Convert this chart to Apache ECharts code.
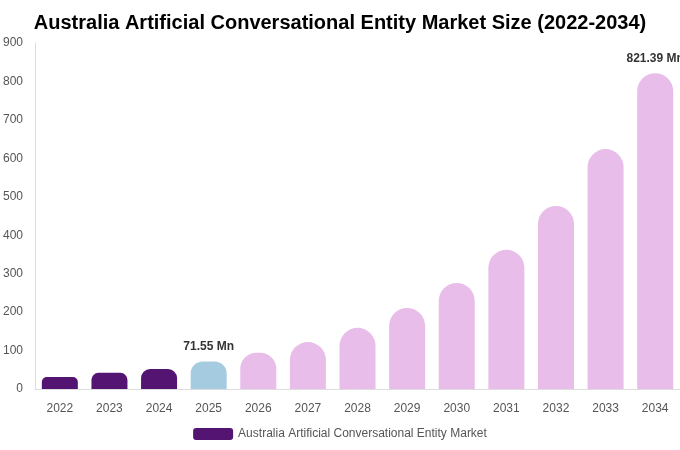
<!DOCTYPE html>
<html>
<head>
<meta charset="utf-8">
<script src="https://cdn.jsdelivr.net/npm/echarts@6/dist/echarts.min.js"></script>
<style>
html, body { margin: 0; padding: 0; background: #fff; }
#main { width: 680px; height: 450px; }
</style>
</head>
<body>
<div id="main"></div>
<script>
var years = ['2022','2023','2024','2025','2026','2027','2028','2029','2030','2031','2032','2033','2034'];
var values = [31, 42, 52, 71.55, 94, 122, 159, 211, 276, 362, 476, 624, 821.39];
var yTicks = [0, 100, 200, 300, 400, 500, 600, 700, 800, 900];
var labelled = { '2025': '71.55 Mn', '2034': '821.39 Mn' };

function barColor(i) {
	if (i < 3) return '#541472';
	if (i == 3) return '#a5cbe0';
	return '#e8bde9';
}

// corner radius shrinks on the short bars (346px of plot for 900 units)
function barRadius(v) {
	var h = v * 346 / 900;
	return Math.min(18, Math.round(h * 0.45));
}

var myChart = echarts.init(document.getElementById('main'));
var option = {
	title: {
		text: 'Australia Artificial Conversational Entity Market Size (2022-2034)',
		left: 'center',
		top: 8,
		textStyle: { fontFamily: 'Liberation Sans', fontSize: 20, fontWeight: 'bold', color: '#000' }
	},
	legend: {
		bottom: 5,
		left: 'center',
		itemWidth: 40,
		itemHeight: 12,
		textStyle: { fontFamily: 'Liberation Sans', fontSize: 12, color: '#555' },
		data: [{ name: 'Australia Artificial Conversational Entity Market', itemStyle: { color: '#541472' } }]
	},
	grid: { left: 35, right: 0, top: 43, bottom: 61 },
	xAxis: {
		type: 'category',
		data: years,
		axisLine: { lineStyle: { color: '#ddd' } },
		axisTick: { show: false },
		axisLabel: { fontFamily: 'Liberation Sans', fontSize: 12, color: '#555', margin: 14 }
	},
	yAxis: {
		type: 'value',
		min: 0,
		max: yTicks[yTicks.length - 1],
		interval: 100,
		axisLine: { show: true, lineStyle: { color: '#ddd' } },
		axisTick: { show: false },
		splitLine: { show: false },
		axisLabel: { fontFamily: 'Liberation Sans', fontSize: 12, color: '#555', margin: 12 }
	},
	series: [{
		name: 'Australia Artificial Conversational Entity Market',
		type: 'bar',
		barWidth: 36,
		data: values.map(function (v, i) {
			var r = barRadius(v);
			var item = { value: v, itemStyle: { color: barColor(i), borderRadius: [r, r, 0, 0] } };
			if (labelled[years[i]]) {
				item.label = {
					show: true,
					position: 'top',
					distance: 9,
					formatter: labelled[years[i]],
					fontFamily: 'Liberation Sans',
					fontSize: 12,
					fontWeight: 'bold',
					color: '#333'
				};
			}
			return item;
		})
	}]
};
myChart.setOption(option);
</script>
</body>
</html>
